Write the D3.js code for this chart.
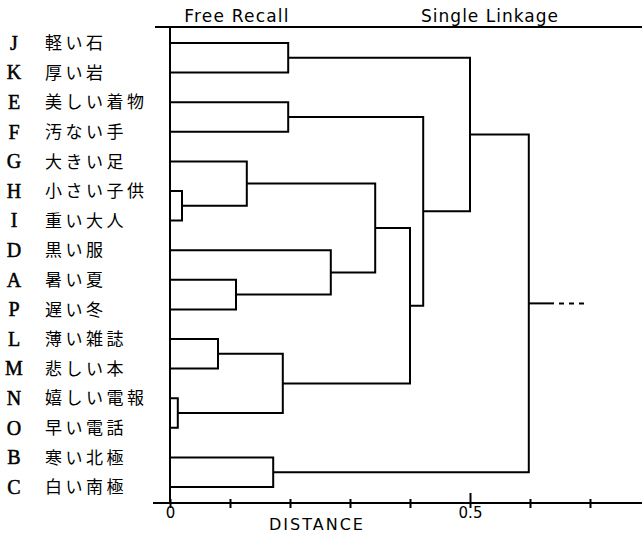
<!DOCTYPE html>
<html lang="ja">
<head>
  <meta charset="UTF-8">
  <title>Free Recall - Single Linkage</title>
  <script src="https://d3js.org/d3.v7.min.js"></script>
  <style>
    body { margin: 0; background: #fff; }
    svg { display: block; }
  </style>
</head>
<body>
  <div id="chart"></div>
  <script>
    // leaves, top to bottom
    const leafCodes = ["J", "K", "E", "F", "G", "H", "I", "D", "A", "P", "L", "M", "N", "O", "B", "C"];
    const leafWords = ["軽い石", "厚い岩", "美しい着物", "汚ない手", "大きい足", "小さい子供", "重い大人", "黒い服",
                       "暑い夏", "遅い冬", "薄い雑誌", "悲しい本", "嬉しい電報", "早い電話", "寒い北極", "白い南極"];

    // merges: [id, child a, child b, distance]
    const merges = [
      ["m0", "H", "I", 0.020],
      ["m1", "N", "O", 0.013],
      ["m2", "L", "M", 0.080],
      ["m3", "A", "P", 0.110],
      ["m4", "G", "m0", 0.128],
      ["m5", "B", "C", 0.172],
      ["m6", "m2", "m1", 0.188],
      ["m7", "J", "K", 0.197],
      ["m8", "E", "F", 0.197],
      ["m9", "D", "m3", 0.268],
      ["m10", "m4", "m9", 0.342],
      ["m11", "m10", "m6", 0.400],
      ["m12", "m8", "m11", 0.422],
      ["m13", "m7", "m12", 0.500],
      ["m14", "m13", "m5", 0.598]
    ];

    // root stem: solid part then dashed part
    const stemSolid = 0.64;
    const stemEnd = 0.692;

    const tickValues = [0, 0.1, 0.2, 0.3, 0.4, 0.5, 0.6, 0.7];
    const tickLabels = { 0: "0", 0.5: "0.5" };

    const width = 642, height = 534;
    const topY = 27, axisY = 503;

    const x = d3.scaleLinear().domain([0, 0.7]).range([170, 590]);
    const y = d3.scalePoint().domain(leafCodes).range([43, 487]);

    const svg = d3.select("#chart").append("svg")
      .attr("width", width)
      .attr("height", height);

    // node positions
    const pos = {};
    leafCodes.forEach(c => { pos[c] = { d: 0, y: y(c) }; });
    merges.forEach(([id, a, b, d]) => {
      pos[id] = { d: d, y: (pos[a].y + pos[b].y) / 2 };
    });

    const g = svg.append("g")
      .attr("fill", "none")
      .attr("stroke", "#000")
      .attr("stroke-width", 2);

    // frame: top line, zero line
    g.append("line")
      .attr("x1", 155).attr("x2", width)
      .attr("y1", topY).attr("y2", topY);
    g.append("line")
      .attr("x1", x(0)).attr("x2", x(0))
      .attr("y1", topY).attr("y2", axisY);

    // dendrogram links
    g.selectAll("path.link")
      .data(merges)
      .join("path")
      .attr("class", "link")
      .attr("d", ([id, a, b, d]) => {
        const pa = pos[a], pb = pos[b];
        return `M${x(pa.d)},${pa.y}H${x(d)}V${pb.y}H${x(pb.d)}`;
      });

    const root = pos[merges[merges.length - 1][0]];
    g.append("line")
      .attr("x1", x(root.d)).attr("x2", x(stemSolid))
      .attr("y1", root.y).attr("y2", root.y);
    g.append("line")
      .attr("x1", x(stemSolid)).attr("x2", x(stemEnd))
      .attr("y1", root.y).attr("y2", root.y)
      .attr("stroke-dasharray", "5,5")
      .attr("stroke-dashoffset", -5);

    // bottom axis
    const axis = d3.axisBottom(x)
      .tickValues(tickValues)
      .tickSize(0)
      .tickFormat(d => tickLabels[d] || "");

    const ax = svg.append("g")
      .attr("transform", `translate(0,${axisY})`)
      .call(axis);
    ax.select(".domain").remove();
    ax.append("line")
      .attr("x1", 153).attr("x2", width)
      .attr("stroke", "#000").attr("stroke-width", 2);
    ax.selectAll(".tick line")
      .attr("stroke-width", 2)
      .attr("y1", d => d === 0.5 ? -10 : -4)
      .attr("y2", 5);
    ax.selectAll(".tick text")
      .attr("y", 4)
      .attr("font-family", "DejaVu Sans")
      .attr("font-size", 15)
      .attr("fill", "#000");

    svg.append("text")
      .attr("x", 317).attr("y", 530)
      .attr("text-anchor", "middle")
      .attr("font-family", "DejaVu Sans")
      .attr("font-size", 16)
      .attr("letter-spacing", 2)
      .text("DISTANCE");

    // titles
    svg.append("text")
      .attr("x", 237).attr("y", 22)
      .attr("text-anchor", "middle")
      .attr("font-family", "DejaVu Sans")
      .attr("font-size", 17)
      .attr("letter-spacing", 1.2)
      .text("Free Recall");
    svg.append("text")
      .attr("x", 490).attr("y", 22)
      .attr("text-anchor", "middle")
      .attr("font-family", "DejaVu Sans")
      .attr("font-size", 17)
      .attr("letter-spacing", 1)
      .text("Single Linkage");

    // leaf labels
    const labels = svg.append("g");
    labels.selectAll("text.code")
      .data(leafCodes)
      .join("text")
      .attr("class", "code")
      .attr("x", 14)
      .attr("y", d => y(d))
      .attr("dy", "0.34em")
      .attr("text-anchor", "middle")
      .attr("font-family", "Liberation Serif")
      .attr("font-size", 20)
      .attr("stroke", "#000")
      .attr("stroke-width", 0.5)
      .text(d => d);
    labels.selectAll("text.word")
      .data(leafWords)
      .join("text")
      .attr("class", "word")
      .attr("x", 45)
      .attr("y", (d, i) => y(leafCodes[i]))
      .attr("dy", "0.36em")
      .attr("font-family", "Noto Sans CJK JP")
      .attr("font-size", 17)
      .attr("letter-spacing", 3.5)
      .text(d => d);
  </script>
</body>
</html>
